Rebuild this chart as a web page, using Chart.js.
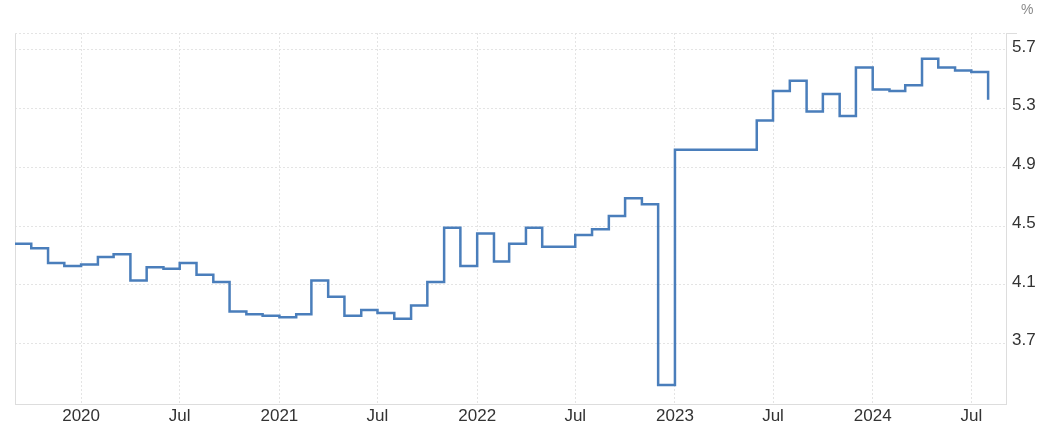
<!DOCTYPE html>
<html>
<head>
<meta charset="utf-8">
<script src="https://cdn.jsdelivr.net/npm/chart.js@4/dist/chart.umd.min.js"></script>
<style>
    body { margin: 0; background: #fff; }
    #wrap { position: relative; width: 1049px; height: 433px; }
    #unit { position: absolute; left: 1021px; top: 1px; font: 14px 'Liberation Sans', Arial, sans-serif; color: #8a8a8a; }
</style>
</head>
<body>
<div id="wrap">
    <canvas id="rateChart"></canvas>
    <div id="unit">%</div>
</div>
<script>
// monthly values, one per month start
const months = [
    '2019-09', '2019-10', '2019-11', '2019-12',
    '2020-01', '2020-02', '2020-03', '2020-04', '2020-05', '2020-06', '2020-07', '2020-08', '2020-09', '2020-10', '2020-11', '2020-12',
    '2021-01', '2021-02', '2021-03', '2021-04', '2021-05', '2021-06', '2021-07', '2021-08', '2021-09', '2021-10', '2021-11', '2021-12',
    '2022-01', '2022-02', '2022-03', '2022-04', '2022-05', '2022-06', '2022-07', '2022-08', '2022-09', '2022-10', '2022-11', '2022-12',
    '2023-01', '2023-02', '2023-03', '2023-04', '2023-05', '2023-06', '2023-07', '2023-08', '2023-09', '2023-10', '2023-11', '2023-12',
    '2024-01', '2024-02', '2024-03', '2024-04', '2024-05', '2024-06', '2024-07', '2024-08'
];
const values = [
    4.38, 4.35, 4.25, 4.23,
    4.24, 4.29, 4.31, 4.13, 4.22, 4.21, 4.25, 4.17, 4.12, 3.92, 3.90, 3.89,
    3.88, 3.90, 4.13, 4.02, 3.89, 3.93, 3.91, 3.87, 3.96, 4.12, 4.49, 4.23,
    4.45, 4.26, 4.38, 4.49, 4.36, 4.36, 4.44, 4.48, 4.57, 4.69, 4.65, 3.42,
    5.02, 5.02, 5.02, 5.02, 5.02, 5.22, 5.42, 5.49, 5.28, 5.40, 5.25, 5.58,
    5.43, 5.42, 5.46, 5.64, 5.58, 5.56, 5.55, 5.36
];
const xTickDates = ['2020-01', '2020-07', '2021-01', '2021-07', '2022-01', '2022-07', '2023-01', '2023-07', '2024-01', '2024-07'];
const xTickLabels = ['2020', 'Jul', '2021', 'Jul', '2022', 'Jul', '2023', 'Jul', '2024', 'Jul'];
const yTicks = [3.7, 4.1, 4.5, 4.9, 5.3, 5.7];

function toTime(ym, day) {
    const [y, m] = ym.split('-').map(Number);
    return Date.UTC(y, m - 1, day || 1);
}

const gridColor = '#e4e4e4';
const edgeColor = '#dddddd';

// left edge solid, top edge dotted
const frame = {
    id: 'frame',
    beforeDatasetsDraw(chart) {
        const { ctx, chartArea: a } = chart;
        ctx.save();
        ctx.strokeStyle = edgeColor;
        ctx.lineWidth = 1;
        ctx.beginPath();
        ctx.moveTo(a.left + 0.5, a.top);
        ctx.lineTo(a.left + 0.5, a.bottom);
        ctx.stroke();
        ctx.beginPath();
        ctx.moveTo(a.right, a.top + 0.5);
        ctx.lineTo(a.right + 11, a.top + 0.5);
        ctx.stroke();
        ctx.setLineDash([2, 2]);
        ctx.strokeStyle = gridColor;
        ctx.beginPath();
        ctx.moveTo(a.left, a.top + 0.5);
        ctx.lineTo(a.right, a.top + 0.5);
        ctx.stroke();
        ctx.restore();
    }
};

const ctx = document.getElementById('rateChart').getContext('2d');
new Chart(ctx, {
    type: 'line',
    data: {
        datasets: [{
            data: months.map((m, i) => ({ x: toTime(m), y: values[i] })),
            borderColor: '#4a7ebb',
            borderWidth: 2.5,
            stepped: 'before',
            pointRadius: 0,
            fill: false
        }]
    },
    options: {
        responsive: true,
        maintainAspectRatio: false,
        animation: false,
        layout: { padding: { left: 15, top: 33, right: 0, bottom: 0 } },
        plugins: {
            legend: { display: false },
            tooltip: { enabled: false }
        },
        scales: {
            x: {
                type: 'linear',
                min: toTime('2019-09'),
                max: toTime('2024-09', 3),
                afterBuildTicks: s => { s.ticks = xTickDates.map(d => ({ value: toTime(d) })); },
                afterFit: s => { s.height = 29; },
                grid: { color: gridColor, drawTicks: false },
                border: { color: edgeColor, dash: [2, 2] },
                ticks: {
                    padding: 2,
                    maxRotation: 0,
                    autoSkip: false,
                    color: '#333',
                    font: { family: "'Liberation Sans', Arial", size: 17 },
                    callback: (v, i) => xTickLabels[i]
                }
            },
            y: {
                position: 'right',
                min: 3.29,
                max: 5.815,
                afterBuildTicks: s => { s.ticks = yTicks.map(v => ({ value: v })); },
                afterFit: s => { s.width = 43; },
                grid: { color: gridColor, drawTicks: false },
                border: { color: edgeColor, dash: [2, 2] },
                ticks: {
                    padding: 6,
                    labelOffset: -3,
                    color: '#333',
                    font: { family: "'Liberation Sans', Arial", size: 17 },
                    callback: v => v.toFixed(1)
                }
            }
        }
    },
    plugins: [frame]
});
</script>
</body>
</html>
